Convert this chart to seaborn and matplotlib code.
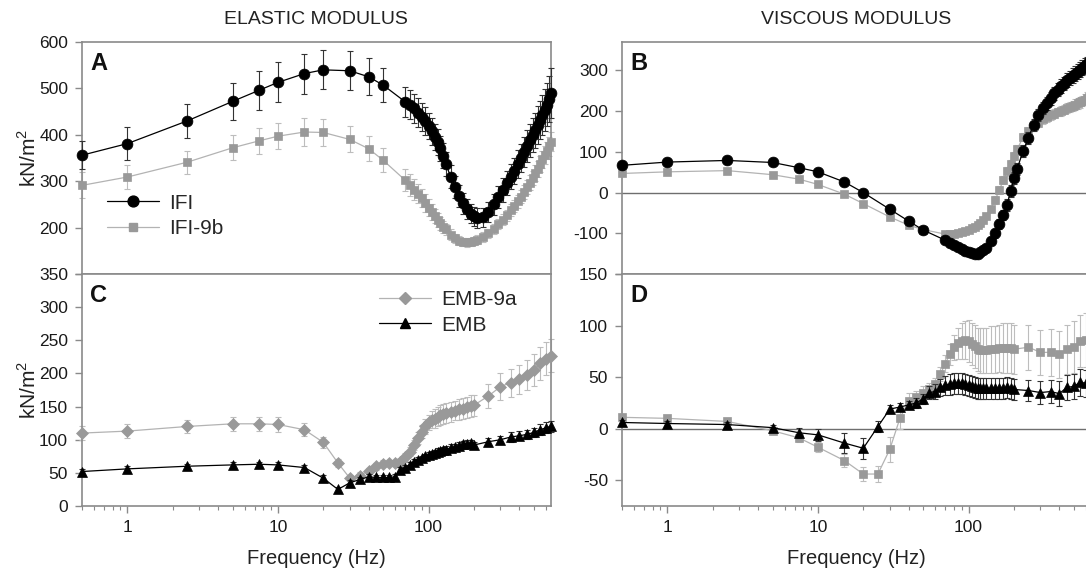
import matplotlib
matplotlib.use("Agg")
import matplotlib.pyplot as plt
from matplotlib.lines import Line2D
from matplotlib.ticker import FixedLocator, FixedFormatter, LogLocator, NullFormatter
import numpy as np
import seaborn as sns

sns.set_theme(style="ticks")
plt.rcParams['font.family'] = ['Liberation Sans', 'DejaVu Sans']
plt.rcParams['mathtext.fontset'] = 'custom'
plt.rcParams['mathtext.rm'] = 'Liberation Sans'

# ---- IFI / IFI-9b (panels A and B) ----
freq_ifi = [0.5, 1, 2.5, 5, 7.5, 10, 15, 20, 30, 40, 50,
            70, 75, 80, 85, 90, 95, 100, 105, 110, 115, 120, 125,
            130, 140, 150, 160, 170, 180, 190, 200,
            210, 230, 250, 270, 290, 310, 330, 350, 370, 390, 410, 430,
            450, 470, 490, 510, 530, 550, 570, 590, 610, 630, 650]

ifi_elastic = [356, 381, 430, 472, 496, 513, 532, 540, 538, 525, 507,
               471, 465, 457, 448, 439, 429, 419, 408, 396, 384, 371, 355,
               338, 310, 288, 268, 252, 240, 230, 224,
               221, 222, 233, 250, 266, 281, 296, 310, 323, 337, 350, 363,
               376, 388, 399, 410, 421, 432, 443, 454, 465, 477, 490]
ifi_elastic_err = [30, 35, 37, 40, 42, 43, 43, 42, 42, 40, 36,
                   32, 32, 31, 31, 30, 30, 29, 29, 28, 28, 27, 27,
                   26, 25, 24, 23, 22, 22, 21, 21,
                   21, 21, 22, 23, 24, 25, 26, 27, 28, 30, 31, 32,
                   34, 35, 37, 38, 40, 41, 43, 45, 47, 50, 53]

ifi9b_elastic = [291, 309, 341, 372, 387, 397, 406, 405, 390, 370, 345,
                 302, 292, 282, 273, 264, 253, 243, 234, 225, 217, 209, 202,
                 196, 185, 177, 172, 169, 168, 169, 171,
                 174, 180, 188, 197, 207, 217, 227, 237, 247, 257, 267, 277,
                 287, 297, 307, 317, 327, 337, 347, 357, 366, 375, 385]
ifi9b_elastic_err = [28, 25, 25, 27, 28, 28, 30, 30, 28, 27, 26,
                     24, 23, 22, 21, 20, 19, 18, 17, 16, 15, 14, 13,
                     12, 11, 10, 10, 9, 9, 9, 9,
                     9, 10, 10, 11, 11, 12, 12, 13, 13, 14, 14, 15,
                     15, 16, 16, 17, 17, 18, 18, 19, 19, 20, 20]

ifi_viscous = [67, 75, 79, 74, 61, 51, 26, 0, -41, -70, -92,
               -117, -123, -129, -134, -139, -143, -146, -149, -151, -150, -147, -142,
               -136, -118, -100, -78, -55, -30, 3, 35,
               58, 102, 135, 167, 190, 207, 220, 232, 244, 253, 261, 268,
               276, 282, 287, 292, 297, 302, 307, 311, 315, 320, 325]
ifi_viscous_err = [4, 4, 4, 4, 4, 4, 4, 4, 5, 5, 5,
                   6, 6, 6, 6, 6, 6, 6, 6, 7, 7, 7, 8,
                   9, 10, 11, 12, 13, 14, 15, 15,
                   15, 15, 15, 15, 15, 15, 16, 16, 16, 16, 17, 17,
                   17, 17, 18, 18, 18, 18, 19, 19, 19, 20, 20]

ifi9b_viscous = [47, 51, 54, 44, 33, 20, -4, -27, -60, -80, -91,
                 -102, -102, -101, -100, -98, -95, -92, -88, -84, -80, -74, -67,
                 -58, -40, -18, 6, 30, 52, 70, 90,
                 106, 136, 152, 163, 172, 180, 185, 190, 194, 198, 201, 204,
                 207, 210, 213, 216, 219, 222, 225, 228, 232, 236, 240]
ifi9b_viscous_err = [3, 3, 3, 3, 3, 3, 3, 3, 4, 4, 4,
                     5, 5, 5, 5, 5, 6, 6, 6, 6, 7, 7, 7,
                     8, 8, 9, 9, 10, 10, 10, 10,
                     10, 10, 10, 10, 10, 11, 11, 11, 11, 11, 12, 12,
                     12, 12, 12, 13, 13, 13, 13, 14, 14, 14, 15]

# ---- EMB / EMB-9a (panels C and D) ----
freq_emb = [0.5, 1, 2.5, 5, 7.5, 10, 15, 20, 25, 30,
            35, 40, 45, 50, 55, 60, 65, 70, 75, 80, 85, 90, 95, 100,
            105, 110, 115, 120, 125,
            130, 140, 150, 160, 170, 180, 190, 200,
            250, 300, 350, 400, 450, 500, 550, 600, 650]

emb9a_elastic = [110, 113, 120, 124, 124, 123, 115, 96, 65, 42,
                 46, 53, 60, 64, 65, 65, 67, 74, 82, 92, 102, 112, 120, 126,
                 130, 132, 135, 137, 139,
                 140, 142, 144, 146, 147, 149, 151, 152,
                 166, 180, 186, 191, 198, 205, 215, 222, 227]
emb9a_elastic_err = [10, 10, 10, 11, 11, 11, 10, 8, 6, 5,
                     5, 5, 5, 5, 5, 5, 5, 6, 7, 8, 9, 10, 11, 12,
                     13, 14, 14, 15, 15,
                     15, 15, 15, 16, 16, 16, 16, 16,
                     18, 20, 21, 22, 23, 24, 25, 25, 25]

emb_elastic = [52, 56, 60, 62, 63, 62, 58, 42, 25, 35,
               40, 44, 43, 43, 43, 44, 55, 58, 62, 67, 70, 72, 75, 77,
               78, 80, 82, 83, 84,
               85, 88, 89, 91, 93, 94, 95, 92,
               97, 100, 104, 106, 108, 111, 115, 118, 120]
emb_elastic_err = [4, 4, 4, 4, 4, 4, 4, 5, 4, 4,
                   4, 4, 4, 4, 4, 4, 4, 4, 4, 4, 4, 4, 4, 4,
                   5, 5, 5, 5, 5,
                   5, 5, 5, 5, 5, 5, 5, 5,
                   6, 6, 7, 7, 7, 7, 8, 8, 8]

emb9a_viscous = [11, 10, 7, -2, -9, -18, -31, -44, -44, -20,
                 10, 27, 31, 35, 38, 43, 53, 63, 72, 79, 83, 85, 86, 85,
                 82, 80, 77, 76, 76,
                 76, 77, 77, 78, 78, 78, 78, 77,
                 79, 74, 74, 72, 77, 79, 85, 86, 85]
emb9a_viscous_err = [3, 3, 3, 3, 4, 5, 6, 7, 8, 12,
                     10, 8, 6, 6, 6, 6, 7, 8, 10, 12, 15, 17, 18, 20,
                     20, 21, 21, 22, 22,
                     22, 23, 23, 23, 24, 24, 24, 24,
                     22, 22, 23, 23, 24, 25, 25, 26, 26]

emb_viscous = [6, 5, 4, 1, -4, -6, -14, -19, 2, 19,
               21, 23, 25, 29, 35, 36, 40, 42, 43, 44, 44, 44, 43, 42,
               41, 40, 39, 39, 39,
               39, 39, 39, 39, 39, 40, 39, 38,
               37, 35, 36, 34, 40, 41, 45, 44, 45]
emb_viscous_err = [2, 2, 2, 3, 5, 6, 10, 10, 5, 4,
                   4, 4, 5, 5, 6, 7, 8, 9, 10, 10, 10, 10, 10, 10,
                   10, 10, 10, 10, 10,
                   10, 10, 10, 10, 10, 10, 10, 10,
                   10, 11, 11, 12, 12, 12, 13, 13, 13]

BLACK = "#000000"
GREY = "#999999"
GREY_LINE = "#b3b3b3"
GREY_ERR = "#bdbdbd"
BLACK_ERR = "#333333"
AXIS = "#8a8a8a"

W, H = 1086, 570
fig = plt.figure(figsize=(W / 100, H / 100), dpi=100)


def add_ax(x0, y0, w=469, h=232):
    return fig.add_axes([x0 / W, 1 - (y0 + h) / H, w / W, h / H])


axA = add_ax(82, 42)
axC = add_ax(82, 274)
axB = add_ax(622, 42)
axD = add_ax(622, 274)


def series(ax, f, y, err, black, marker, ms, z):
    col = BLACK if black else GREY
    ax.errorbar(f, y, yerr=err, fmt='none', ecolor=BLACK_ERR if black else GREY_ERR,
                elinewidth=0.8, capsize=2.5, capthick=0.8, zorder=z, clip_on=False)
    sns.lineplot(x=f, y=y, ax=ax, color=BLACK if black else GREY_LINE, linewidth=0.9,
                 marker=marker, markersize=ms, markerfacecolor=col, markeredgecolor=col,
                 markeredgewidth=0.5, zorder=z + 1, clip_on=False, sort=False)


series(axA, freq_ifi, ifi9b_elastic, ifi9b_elastic_err, False, 's', 6, 2)
series(axA, freq_ifi, ifi_elastic, ifi_elastic_err, True, 'o', 7.8, 4)
series(axB, freq_ifi, ifi9b_viscous, ifi9b_viscous_err, False, 's', 6, 2)
series(axB, freq_ifi, ifi_viscous, ifi_viscous_err, True, 'o', 7.8, 4)
series(axC, freq_emb, emb9a_elastic, emb9a_elastic_err, False, 'D', 6, 2)
series(axC, freq_emb, emb_elastic, emb_elastic_err, True, '^', 7, 4)
series(axD, freq_emb, emb9a_viscous, emb9a_viscous_err, False, 's', 6, 2)
series(axD, freq_emb, emb_viscous, emb_viscous_err, True, '^', 7, 4)

for ax in (axB, axD):
    ax.axhline(0, color="#6e6e6e", lw=1.0, zorder=1)

for ax, bottom in ((axA, False), (axB, False), (axC, True), (axD, True)):
    ax.set_xscale('log')
    ax.set_xlim(0.5, 650)
    ax.xaxis.set_major_locator(FixedLocator([1, 10, 100]))
    ax.xaxis.set_minor_locator(LogLocator(base=10, subs=np.arange(2, 10), numticks=20))
    ax.xaxis.set_minor_formatter(NullFormatter())
    if bottom:
        ax.xaxis.set_major_formatter(FixedFormatter(['1', '10', '100']))
        ax.set_xlabel('Frequency (Hz)', fontsize=14.5, labelpad=10, color='#222222')
    else:
        ax.xaxis.set_major_formatter(NullFormatter())
        ax.set_xlabel('')
    ax.set_ylabel('')
    for s in ax.spines.values():
        s.set_color(AXIS)
        s.set_linewidth(1.2)
    ax.tick_params(which='both', direction='out', color=AXIS, labelsize=12.5,
                   labelcolor='#1a1a1a', top=False, right=False)
    ax.tick_params(which='major', length=5, width=1, pad=5)
    ax.tick_params(which='minor', length=3, width=0.8)
    ax.grid(False)

axA.set_ylim(100, 600)
axA.set_yticks([100, 200, 300, 400, 500, 600])
axA.set_yticklabels(['', '200', '300', '400', '500', '600'])
axC.set_ylim(0, 350)
axC.set_yticks([0, 50, 100, 150, 200, 250, 300, 350])
axC.set_yticklabels(['0', '50', '100', '150', '200', '250', '300', '350'])
axB.set_ylim(-200, 370)
axB.set_yticks([-200, -100, 0, 100, 200, 300])
axB.set_yticklabels(['', '-100', '0', '100', '200', '300'])
axD.set_ylim(-75, 150)
axD.set_yticks([-50, 0, 50, 100, 150])
axD.set_yticklabels(['-50', '0', '50', '100', '150'])

for ax in (axA, axC):
    ax.set_ylabel(r'kN/m$^{\mathregular{2}}$', fontsize=15, color='#222222')
    ax.yaxis.set_label_coords(-0.09, 0.5)

for ax, letter in ((axA, 'A'), (axB, 'B'), (axC, 'C'), (axD, 'D')):
    ax.text(0.018, 0.955, letter, transform=ax.transAxes, fontsize=17,
            fontweight='bold', va='top', ha='left', color='#111111')

fig.text(316 / W, 1 - 19 / H, 'ELASTIC MODULUS', ha='center', va='center',
         fontsize=14, color='#222222')
fig.text(856 / W, 1 - 19 / H, 'VISCOUS MODULUS', ha='center', va='center',
         fontsize=14, color='#222222')

h_ifi = Line2D([], [], color=BLACK, lw=0.9, marker='o', ms=7.8, mfc=BLACK, mec=BLACK)
h_ifi9b = Line2D([], [], color=GREY_LINE, lw=0.9, marker='s', ms=6, mfc=GREY, mec=GREY)
axA.legend([h_ifi, h_ifi9b], ['IFI', 'IFI-9b'], loc='lower left',
           bbox_to_anchor=(0.035, 0.12), borderaxespad=0, frameon=False,
           fontsize=15, handlelength=2.5, handletextpad=0.5, labelspacing=0.3)

h_emb9a = Line2D([], [], color=GREY_LINE, lw=0.9, marker='D', ms=6, mfc=GREY, mec=GREY)
h_emb = Line2D([], [], color=BLACK, lw=0.9, marker='^', ms=7, mfc=BLACK, mec=BLACK)
axC.legend([h_emb9a, h_emb], ['EMB-9a', 'EMB'], loc='upper left',
           bbox_to_anchor=(0.615, 0.965), borderaxespad=0, frameon=False,
           fontsize=15, handlelength=2.5, handletextpad=0.5, labelspacing=0.3)

fig.savefig('out.png', dpi=100)
